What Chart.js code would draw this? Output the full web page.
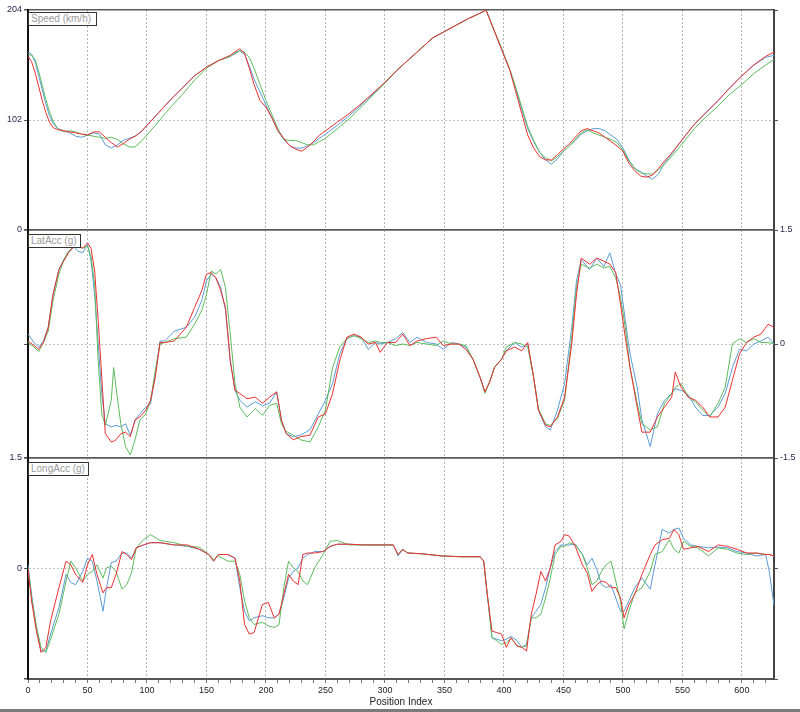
<!DOCTYPE html>
<html>
<head>
<meta charset="utf-8">
<title>Speed / LatAcc / LongAcc</title>
<script src="https://cdn.jsdelivr.net/npm/chart.js@4.4.0/dist/chart.umd.min.js"></script>
<style>
  body { margin: 0; background: #fff; }
  #wrap { position: relative; width: 800px; height: 712px; overflow: hidden; background: #fff; }
  #wrap canvas { position: absolute; left: 0; top: 0; }
  .tag {
    position: absolute; left: 28px; height: 14px; line-height: 14px;
    border: 1px solid #333; background: #fff; color: #9a9a9a;
    font: 10px "Liberation Sans", Arial, sans-serif; padding: 0 2px; box-sizing: border-box;
  }
  #bar { position: absolute; left: 0; top: 709px; width: 800px; height: 3px; background: #7a7a7a; }
</style>
</head>
<body>
<div id="wrap">
  <canvas id="speed" width="800" height="712"></canvas>
  <canvas id="lat" width="800" height="712"></canvas>
  <canvas id="lon" width="800" height="712"></canvas>
  <div class="tag" style="top:12px;width:69px">Speed (km/h)</div>
  <div class="tag" style="top:234px;width:53px">LatAcc (g)</div>
  <div class="tag" style="top:462px;width:61px">LongAcc (g)</div>
  <div id="bar"></div>
</div>
<script>
// ---- data (x = position index) ----
let speedX = [0,3,6,9,12,15,18,21,25,30,35,40,45,50,55,60,65,70,75,80,85,90,95,100,110,120,130,140,150,160,170,175,178,182,186,190,195,200,205,210,215,220,225,230,235,240,245,250,260,270,280,290,300,310,320,330,340,350,360,370,380,385,390,395,400,405,410,415,420,425,430,435,440,445,450,455,460,465,470,475,480,485,490,495,500,505,510,515,520,525,530,535,540,550,560,570,580,590,600,610,620,627];
let speedBlue = [165,163,156,143,130,117,106,99,94,92,90,87,86,88,90,89,79,76,79,83,85,87,91,97,109,121,132,143,151,157,161,164,166,163,152,140,128,116,104,92,84,78,76,76,78,81,85,89,97,106,116,126,137,148,158,168,178,184,190,196,201,204,190,176,162,148,131,112,94,82,72,65,61,66,73,78,83,89,92,94,94,92,88,84,76,65,57,54,50,47,52,62,69,84,98,109,120,132,143,153,160,162];
let speedRed = [161,156,146,133,120,109,100,95,93,92,91,90,89,88,91,91,86,81,77,80,84,87,91,97,109,121,132,143,151,157,162,166,168,164,150,135,120,114,104,92,85,78,75,73,77,82,88,92,100,108,117,127,137,148,158,168,178,184,190,196,201,204,190,176,162,148,128,108,88,76,68,65,65,70,75,80,86,92,94,92,90,86,82,78,73,62,55,50,49,51,57,64,70,84,98,109,120,132,143,153,161,165];
let speedGreen = [163,162,158,147,134,121,110,101,94,91,92,91,89,88,87,86,85,86,84,80,77,77,82,88,101,114,126,139,150,157,161,165,166,165,160,150,135,120,107,94,84,83,83,81,79,79,82,85,94,103,114,125,136,148,158,168,178,184,190,196,201,204,190,177,163,149,132,114,96,83,72,67,64,68,73,78,84,90,93,90,88,86,84,81,74,64,57,53,52,52,56,61,67,80,94,105,115,126,135,145,153,158];

let latX = [0,5,9,13,17,21,26,30,34,38,42,46,50,53,56,59,62,65,70,72,74,78,82,86,90,94,99,103,107,111,115,123,133,140,146,150,154,158,162,166,170,174,178,184,191,197,203,209,213,217,223,229,237,244,250,256,262,268,274,280,286,292,296,302,309,315,321,327,335,343,349,356,362,368,374,380,384,388,392,398,402,409,415,420,425,429,435,439,445,451,457,461,465,472,478,484,489,494,498,502,506,512,516,523,529,535,541,544,549,555,561,567,573,580,586,592,598,604,610,616,622,627];
let latBlue = [0.13,0.02,-0.04,0.04,0.22,0.65,0.98,1.11,1.20,1.29,1.22,1.20,1.31,1.09,0.65,0.0,-0.65,-1.05,-1.09,-1.08,-1.07,-1.09,-1.05,-1.20,-1.0,-0.92,-0.83,-0.79,-0.39,0.04,0.04,0.17,0.22,0.35,0.57,0.83,0.92,0.87,0.74,0.44,-0.22,-0.61,-0.74,-0.83,-0.76,-0.81,-0.78,-0.63,-1.0,-1.18,-1.22,-1.20,-1.13,-0.92,-0.74,-0.52,-0.13,0.07,0.11,0.09,-0.07,0.02,0.0,0.02,0.07,0.15,0.02,0.09,0.02,0.0,-0.07,0.02,0.0,-0.04,-0.2,-0.44,-0.63,-0.5,-0.31,-0.2,-0.09,0.02,-0.04,0.0,-0.44,-0.87,-1.09,-1.13,-0.87,-0.52,0.22,0.83,1.11,0.98,1.13,1.02,1.20,0.92,0.78,0.31,-0.13,-0.57,-1.0,-1.35,-0.92,-0.74,-0.65,-0.59,-0.61,-0.67,-0.83,-0.94,-0.94,-0.83,-0.65,-0.31,-0.07,-0.09,0.0,0.04,0.09,0.0];
let latRed = [0.04,-0.02,-0.07,0.02,0.22,0.65,0.98,1.09,1.20,1.27,1.29,1.26,1.33,1.26,0.96,0.31,-0.44,-1.18,-1.29,-1.28,-1.26,-1.18,-1.16,-1.22,-1.0,-0.96,-0.87,-0.74,-0.44,0.02,0.02,0.04,0.22,0.48,0.70,0.92,0.94,0.87,0.70,0.48,-0.22,-0.61,-0.65,-0.72,-0.70,-0.78,-0.70,-0.63,-1.0,-1.18,-1.26,-1.22,-1.20,-0.96,-0.92,-0.65,-0.22,0.09,0.13,0.09,0.0,0.02,-0.11,0.02,0.02,0.13,-0.02,0.04,0.07,0.09,-0.02,0.0,0.0,-0.07,-0.2,-0.44,-0.63,-0.5,-0.31,-0.2,-0.09,-0.04,-0.09,0.02,-0.44,-0.87,-1.07,-1.09,-0.96,-0.70,0.0,0.65,1.13,1.05,1.13,1.09,1.05,0.94,0.52,0.09,-0.31,-0.83,-1.16,-1.16,-0.96,-0.83,-0.70,-0.37,-0.57,-0.70,-0.74,-0.83,-0.96,-0.96,-0.83,-0.48,-0.13,0.02,0.09,0.13,0.26,0.22];
let latGreen = [0.02,-0.04,-0.10,0.02,0.17,0.57,0.92,1.11,1.22,1.27,1.29,1.26,1.29,1.15,0.78,-0.22,-0.92,-1.07,-0.74,-0.31,-0.57,-1.05,-1.35,-1.46,-1.26,-1.0,-0.92,-0.74,-0.35,0.0,0.02,0.07,0.09,0.26,0.44,0.65,0.96,0.92,0.98,0.74,0.13,-0.52,-0.83,-0.96,-0.85,-0.94,-0.81,-0.78,-1.05,-1.15,-1.20,-1.26,-1.29,-1.09,-0.87,-0.31,-0.04,0.07,0.11,0.07,0.02,0.04,0.02,0.02,-0.02,0.0,-0.02,0.02,0.0,-0.02,0.04,0.0,0.0,-0.02,-0.2,-0.44,-0.65,-0.5,-0.31,-0.2,-0.04,0.02,0.0,-0.04,-0.44,-0.85,-1.05,-1.07,-0.98,-0.74,0.09,0.74,1.05,1.0,1.05,1.0,1.02,0.87,0.61,0.22,-0.31,-0.78,-1.05,-1.13,-1.09,-0.78,-0.65,-0.57,-0.52,-0.70,-0.76,-0.87,-0.96,-0.78,-0.57,0.0,0.07,0.02,0.07,0.02,0.02,0.0];

let lonX = [0,3,7,11,15,19,26,32,36,40,46,50,54,58,63,66,70,74,79,83,87,91,97,103,111,123,134,144,152,156,160,168,174,178,182,186,190,197,202,207,211,215,219,223,227,231,235,241,248,254,260,270,282,294,307,311,315,319,331,348,364,380,383,386,390,394,398,402,406,411,415,419,423,427,431,435,439,443,448,451,455,460,466,470,474,478,482,486,490,494,498,501,505,510,516,523,527,533,539,543,547,551,557,563,572,580,588,596,604,612,620,623,627];
let lonBlue = [0.05,-0.35,-0.80,-1.12,-1.12,-0.89,-0.53,-0.08,-0.19,-0.22,-0.04,0.14,0.10,-0.17,-0.58,-0.26,0.08,0.10,0.21,0.21,0.14,0.28,0.32,0.35,0.35,0.32,0.30,0.26,0.19,0.10,0.19,0.19,0.14,-0.26,-0.58,-0.71,-0.67,-0.64,-0.67,-0.67,-0.62,-0.40,-0.13,-0.04,0.01,0.14,0.19,0.23,0.23,0.30,0.33,0.33,0.32,0.32,0.32,0.17,0.26,0.21,0.20,0.17,0.16,0.16,0.10,-0.35,-0.94,-0.96,-0.98,-0.96,-0.92,-0.98,-1.07,-1.03,-0.67,-0.58,-0.49,-0.26,0.01,0.23,0.32,0.32,0.32,0.33,0.19,0.05,0.14,-0.01,-0.22,-0.26,-0.22,-0.40,-0.58,-0.58,-0.44,-0.26,-0.13,-0.28,0.05,0.53,0.48,0.53,0.55,0.41,0.32,0.30,0.28,0.29,0.28,0.23,0.21,0.17,0.19,-0.04,-0.50];
let lonRed = [-0.01,-0.44,-0.85,-1.14,-1.07,-0.71,-0.26,0.10,0.05,-0.08,-0.19,0.05,0.19,-0.08,-0.33,-0.26,-0.26,-0.08,0.23,0.19,0.12,0.28,0.32,0.35,0.35,0.32,0.32,0.26,0.19,0.10,0.19,0.19,0.14,-0.17,-0.76,-0.89,-0.87,-0.49,-0.46,-0.67,-0.62,-0.35,-0.08,-0.17,-0.22,0.19,0.21,0.21,0.23,0.30,0.33,0.33,0.32,0.32,0.32,0.19,0.26,0.21,0.20,0.17,0.16,0.16,0.10,-0.35,-0.85,-0.87,-0.89,-1.07,-0.94,-1.05,-1.07,-1.12,-0.62,-0.35,-0.04,-0.17,0.01,0.32,0.37,0.46,0.44,0.30,0.05,-0.06,-0.31,-0.22,-0.17,-0.19,-0.26,-0.26,-0.40,-0.67,-0.49,-0.35,-0.08,0.19,0.32,0.39,0.41,0.53,0.46,0.26,0.28,0.30,0.23,0.32,0.30,0.26,0.21,0.21,0.19,0.19,0.17];
let lonGreen = [0.01,-0.40,-0.78,-1.07,-1.14,-0.96,-0.62,-0.17,0.10,0.01,-0.17,-0.08,-0.04,0.05,-0.13,0.01,0.03,-0.04,-0.28,-0.22,-0.06,0.28,0.39,0.46,0.38,0.35,0.30,0.29,0.19,0.12,0.17,0.10,0.10,-0.08,-0.44,-0.67,-0.76,-0.73,-0.78,-0.80,-0.76,-0.26,0.10,0.01,-0.04,-0.17,-0.22,0.01,0.19,0.37,0.38,0.32,0.32,0.32,0.32,0.19,0.26,0.21,0.20,0.17,0.16,0.16,0.10,-0.35,-0.94,-0.98,-1.03,-1.01,-0.94,-1.05,-1.07,-1.05,-0.67,-0.67,-0.62,-0.40,-0.13,0.19,0.30,0.30,0.35,0.32,0.19,0.01,-0.22,-0.17,-0.04,0.05,0.10,-0.17,-0.44,-0.82,-0.58,-0.33,-0.26,-0.04,0.19,0.23,0.39,0.26,0.21,0.37,0.30,0.28,0.17,0.28,0.26,0.21,0.19,0.21,0.19,0.19,0.17];

// axis ranges / ticks
let xMax       = 627;
let speedRange = [0, 204];
let latRange   = [-1.5, 1.5];
let lonRange   = [-1.5, 1.5];

let blueCol  = '#5b9bd5';
let redCol   = '#ee2f2f';
let greenCol = '#5dbb5d';
let tickFont = { family: '"Liberation Sans", Arial, sans-serif', size: 9 };

function line(xs, vals, col) {
    return {
        data: xs.map((x, i) => ({ x: x, y: vals[i] })),
        borderColor: col,
        borderWidth: 1,
        pointRadius: 0,
        tension: 0,
        fill: false
    };
}

function makePanel(id, xs, blue, red, green, range, o) {
    let mid = (range[0] + range[1]) / 2;
    let step = (range[1] - range[0]) / 2;
    let isMid = c => c.tick && Math.abs(c.tick.value - mid) < 1e-9;

    return new Chart(document.getElementById(id), {
        type: 'line',
        data: { datasets: [ line(xs, red, redCol), line(xs, green, greenCol), line(xs, blue, blueCol) ] },
        options: {
            responsive: false,
            animation: false,
            events: [],
            layout: { padding: { top: o.top, bottom: o.bottom, left: 0, right: 0 } },
            plugins: { legend: { display: false }, tooltip: { enabled: false }, title: { display: false } },
            scales: {
                x: {
                    type: 'linear', min: 0, max: xMax,
                    afterFit: s => { s.height = o.showX ? 30 : 0; },
                    ticks: {
                        display: o.showX, stepSize: 10, autoSkip: false, maxRotation: 0, includeBounds: false,
                        padding: 2, color: '#222', font: tickFont,
                        callback: v => (Math.round(v) % 50 === 0 ? String(Math.round(v)) : '')
                    },
                    grid: {
                        color: c => (c.tick && Math.round(c.tick.value) % 50 === 0 && c.tick.value > 0 ? '#b4b4b4' : 'rgba(0,0,0,0)'),
                        lineWidth: 1,
                        drawTicks: o.showX, tickLength: 4, tickColor: '#777'
                    },
                    border: { display: o.showX, color: '#555', width: 2, dash: c => (c.tick ? [2, 2] : []) },
                    title: {
                        display: o.showX, text: 'Position Index', color: '#222',
                        font: { family: '"Liberation Sans", Arial, sans-serif', size: 10 },
                        padding: { top: 0, bottom: 1 }
                    }
                },
                y: {
                    position: 'left', min: range[0], max: range[1],
                    afterFit: s => { s.width = 28; },
                    ticks: {
                        stepSize: step, display: o.leftLabels, color: '#2b2850', font: tickFont, padding: 2,
                        callback: v => (o.hideLeft && o.hideLeft.includes(v) ? '' : String(v))
                    },
                    grid: {
                        color: c => (isMid(c) ? '#c4c4c4' : '#5a5a5a'),
                        lineWidth: c => (isMid(c) ? 1 : 1.5),
                        tickLength: 4, tickColor: '#555'
                    },
                    border: { color: '#111', width: 2, dash: c => (isMid(c) ? [2, 2] : []) }
                },
                y2: {
                    position: 'right', min: range[0], max: range[1],
                    afterFit: s => { s.width = 26; },
                    ticks: { stepSize: step, display: o.rightLabels, color: '#2b2850', font: tickFont, padding: 2 },
                    grid: { drawOnChartArea: false, tickLength: 4, tickColor: '#555' },
                    border: { color: '#444', width: 2 }
                }
            }
        }
    });
}

makePanel('speed', speedX, speedBlue, speedRed, speedGreen, speedRange,
    { top: 10, bottom: 712 - 230, showX: false, leftLabels: true, rightLabels: false });
makePanel('lat', latX, latBlue, latRed, latGreen, latRange,
    { top: 230, bottom: 712 - 458, showX: false, leftLabels: false, rightLabels: true });
makePanel('lon', lonX, lonBlue, lonRed, lonGreen, lonRange,
    { top: 458, bottom: 3, showX: true, leftLabels: true, rightLabels: false, hideLeft: [-1.5] });
</script>
</body>
</html>
